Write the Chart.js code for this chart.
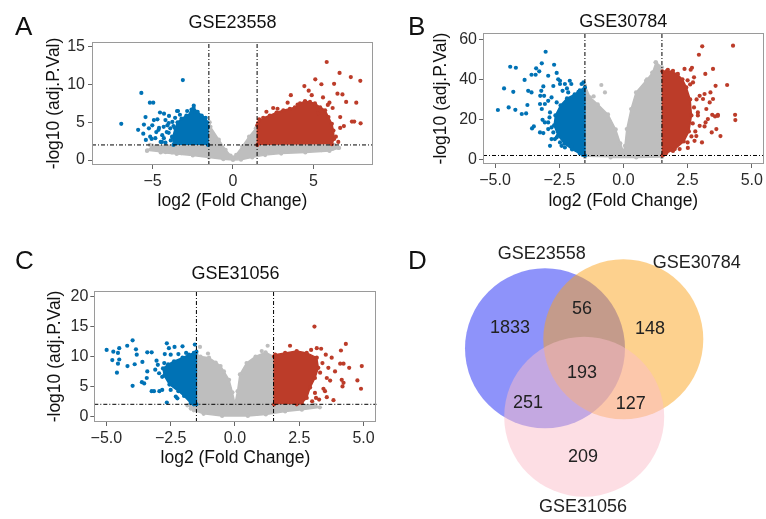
<!DOCTYPE html>
<html><head><meta charset="utf-8">
<script src="https://cdn.jsdelivr.net/npm/chart.js@4.4.1/dist/chart.umd.min.js"></script>
<style>
html,body{margin:0;padding:0;background:#fff;}
#fig{position:relative;width:766px;height:519px;background:#fff;overflow:hidden;font-family:"Liberation Sans",Arial,Helvetica,sans-serif;}
canvas{position:absolute;}
.tag{position:absolute;font-size:26px;line-height:26px;color:#111;}
</style></head><body>
<div id="fig">
<canvas id="cA" width="383" height="215" style="left:0;top:0"></canvas>
<canvas id="cB" width="383" height="215" style="left:383px;top:0"></canvas>
<canvas id="cC" width="383" height="242" style="left:0;top:230px"></canvas>
<canvas id="cD" width="346" height="289" style="left:420px;top:230px"></canvas>
<div class="tag" style="left:15px;top:13px">A</div>
<div class="tag" style="left:408px;top:13px">B</div>
<div class="tag" style="left:15px;top:247px">C</div>
<div class="tag" style="left:408px;top:247px">D</div>
</div>
<script>
// ---------------- DATA ----------------
const FC_CUT = 1.5;   // |log2 FC| threshold
const P_CUT = 2;      // -log10(adj.P) threshold

// Panel A: GSE23558
const A_title = 'GSE23558';
const A_xTicks = [-5, 0, 5];
const A_xTickLabels = ['\u22125', '0', '5'];
const A_yTicks = [0, 5, 10, 15];
const A_yTickLabels = ['0', '5', '10', '15'];
const A_down = [[-6.95,4.8],[-3.12,10.6],[-5.7,8.9],[-5.17,7.6],[-4.96,7.6],[-4.54,6.3],[-5.44,5.7],[-5.9,4.0],[-5.54,4.7],[-5.58,3.5],[-5.23,4.2],[-5.06,2.8],[-4.5,2.4],[-4.92,5.3],[-5.02,4.6],[-4.77,3.7],[-4.29,6.15],[-3.98,5.85],[-4.08,4.6],[-4.4,3.3],[-3.77,5.05],[-3.42,6.5],[-3.87,2.6],[-4.12,3.7],[-4.6,4.25],[-4.7,5.4],[-5.42,2.66],[-5.15,3.1],[-4.83,2.9],[-4.63,4.0],[-4.31,4.4],[-4.2,5.3],[-4.0,4.9],[-3.79,3.1],[-4.42,2.4],[-3.48,6.5],[-2.85,6.5],[-2.58,6.7],[-2.44,7.2],[-4.3,2.9],[-4.0,3.6],[-3.9,4.2],[-4.2,2.3],[-3.7,4.5],[-3.6,5.6],[-3.3,6.0]];
const A_downArea = [[-1.55,2.0],[-1.55,4.4],[-1.6,5.0],[-1.7,5.6],[-1.95,5.9],[-2.2,6.4],[-2.45,6.9],[-2.6,6.3],[-2.9,5.9],[-3.2,5.5],[-3.45,5.0],[-3.6,4.2],[-3.75,3.0],[-3.7,2.0]];
const A_up = [[5.83,13.0],[6.63,11.55],[7.33,11.0],[7.92,10.5],[6.29,10.1],[5.12,10.7],[5.5,10.05],[4.44,9.8],[6.5,8.8],[6.81,8.7],[3.6,8.6],[4.71,9.2],[4.9,8.6],[3.4,7.6],[4.02,7.35],[4.5,7.7],[7.04,7.7],[7.67,7.6],[2.08,6.4],[2.5,6.9],[2.77,6.8],[6.0,7.6],[5.3,6.2],[6.67,5.7],[7.4,5.1],[7.54,5.1],[7.94,4.87],[6.67,4.25],[1.63,5.4],[6.4,3.1],[6.55,2.4],[6.9,4.5],[5.9,7.3],[5.6,8.3],[6.2,6.9]];
const A_upArea = [[1.52,2.0],[1.52,4.6],[1.56,4.9],[1.88,5.6],[2.29,5.9],[2.71,6.3],[3.13,6.6],[3.54,6.8],[3.85,7.0],[4.17,7.5],[4.48,7.8],[4.79,7.7],[5.1,7.5],[5.42,7.0],[5.73,6.6],[5.94,5.7],[6.15,4.8],[6.25,3.9],[6.29,2.8],[6.15,2.1]];
const A_ns = [[-5.33,1.29],[-5.17,2.0],[-4.19,1.06],[-3.8,1.0],[6.56,1.6],[-4.6,1.5],[-5.0,1.7],[5.5,1.3],[6.2,1.5],[-3.2,0.9],[4.7,1.2]];
const A_nsArea = [[-5.35,1.2],[-5.0,1.9],[-3.7,2.0],[-1.55,4.0],[-1.45,5.0],[-1.4,4.4],[-0.88,2.7],[-0.46,1.35],[-0.15,0.6],[0,0.35],[0.2,0.7],[0.58,1.8],[1.0,3.1],[1.42,4.2],[1.5,4.5],[1.55,2.0],[6.3,2.0],[6.6,1.6],[6.0,1.2],[4.5,1.0],[3.0,0.85],[2.0,0.65],[1.2,0.35],[0.5,0.05],[0,0.0],[-0.6,0.1],[-1.5,0.35],[-2.5,0.6],[-3.5,0.8],[-4.5,1.0]];

// Panel B: GSE30784
const B_title = 'GSE30784';
const B_xTicks = [-5, -2.5, 0, 2.5, 5];
const B_xTickLabels = ['\u22125.0', '\u22122.5', '0.0', '2.5', '5.0'];
const B_yTicks = [0, 20, 40, 60];
const B_yTickLabels = ['0', '20', '40', '60'];
const B_down = [[-3.03,53.8],[-4.41,46.3],[-4.19,45.8],[-3.18,48],[-3.4,45.5],[-2.7,47.3],[-3.28,44],[-3.58,42.3],[-3.42,42.3],[-2.93,41.8],[-3.85,39.7],[-2.6,43.2],[-2.47,39.3],[-4.65,35.5],[-4.29,33.8],[-3.71,34.3],[-4.89,24.7],[-4.47,26],[-4.21,24.8],[-3.96,22.7],[-3.79,23.0],[-3.74,27.2],[-3.56,15.5],[-3.49,16.5],[-2.2,35.5],[-2.03,37.7],[-2.28,37.7],[-2.41,6.8],[-2.17,7.7],[-2.02,6.8],[-3.2,34.3],[-3.12,36.5],[-3.09,31.8],[-3.24,31.8],[-3.06,27.7],[-3.25,27.7],[-3.18,25.2],[-2.93,29.3],[-2.8,31],[-3.15,19.8],[-3.06,18.5],[-3.25,13.5],[-3.12,13.2],[-2.93,15.2],[-2.8,10.2],[-2.86,6.8],[-2.67,10.2],[-2.28,6],[-2.47,37.7],[-2.37,34.3],[-2.15,33.5],[-1.63,37.7],[-1.56,38.5],[-1.75,33.8],[-2.09,39.3],[-2.73,36.7],[-2.54,40],[-3.58,33.5],[-2.86,23.5],[-2.93,18.5],[-2.73,13.5],[-2.47,8.5],[-2.6,28.5],[-2.88,21],[-2.8,16],[-2.6,11]];
const B_downArea = [[-1.5,2.0],[-1.5,36],[-1.7,34.5],[-1.9,32.5],[-2.2,30.5],[-2.45,27],[-2.65,22],[-2.7,17],[-2.55,12],[-2.3,8],[-2.0,5.0],[-1.7,3.0],[-1.58,2.3]];
const B_up = [[3.07,56.5],[4.27,56.8],[2.94,52.3],[2.67,45.8],[2.62,44.8],[3.49,45.2],[3.19,42.7],[3.59,36.8],[4.04,37.2],[3.39,33.5],[3.49,30.2],[4.35,22.3],[4.36,19.7],[3.78,11.7],[3.46,22.3],[3.68,22.3],[3.57,21.5],[3.44,13.5],[3.06,8.5],[3.16,16.5],[3.2,18.5],[2.97,31.8],[3.16,32.7],[3.1,30.2],[3.36,28.5],[3.23,25.2],[2.9,23.5],[3.29,20.2],[2.97,16.8],[2.84,11.7],[2.77,9.3],[2.51,5.8],[2.19,5.2],[1.93,4.3],[1.8,5.2],[3.62,15.2],[3.68,21.8],[2.75,41],[2.71,38.5],[2.38,45.2],[2.12,42.7],[1.93,44.3],[1.73,44.8],[2.85,30],[2.9,22],[2.8,14],[2.5,8.5],[2.6,37.5],[2.5,39.5],[2.75,26],[2.7,18],[2.65,11.5]];
const B_upArea = [[1.52,2.0],[1.52,44],[1.7,44.3],[1.9,43.8],[2.1,42.5],[2.3,40],[2.45,36],[2.6,30],[2.65,22],[2.55,14],[2.35,9],[2.0,5.2],[1.67,3.2],[1.55,2.3]];
const B_ns = [[-0.86,37.2],[-0.72,33.5],[-1.16,31.5],[1.25,48.5],[0.92,40],[1.12,43.3],[-1.36,31]];
const B_nsArea = [[-1.5,1.2],[-1.5,37],[-1.3,31],[-1.0,27.5],[-0.6,22.5],[-0.3,15],[-0.12,8],[0,4],[0.06,6.8],[0.13,15.2],[0.3,25.2],[0.49,33.5],[0.88,39.3],[1.14,43.5],[1.27,48.5],[1.5,46],[1.5,1.2],[0.5,1.0],[-0.5,1.0]];

// Panel C: GSE31056
const C_title = 'GSE31056';
const C_xTicks = [-5, -2.5, 0, 2.5, 5];
const C_xTickLabels = ['\u22125.0', '\u22122.5', '0.0', '2.5', '5.0'];
const C_yTicks = [0, 5, 10, 15, 20];
const C_yTickLabels = ['0', '5', '10', '15', '20'];
const C_down = [[-4.99,11.1],[-4.73,10.8],[-4.55,10.6],[-4.5,11.4],[-4.19,11.8],[-3.98,12.7],[-4.77,9.4],[-4.55,8.8],[-4.5,9.5],[-4.59,7.3],[-4.18,8.4],[-3.85,11.2],[-3.82,10.3],[-3.9,8.7],[-3.6,9.1],[-3.41,10.7],[-3.24,10.7],[-3.98,5.1],[-3.41,7.5],[-3.62,5.7],[-3.43,6.4],[-3.15,4.2],[-2.94,4.2],[-2.65,12.2],[-2.57,11.4],[-2.35,11.6],[-2.04,11.7],[-2.73,10.4],[-2.5,10.3],[-2.83,4.4],[-2.5,4.4],[-2.3,3.3],[-2.24,3.0],[-2.65,2.3],[-1.56,12.0],[-3.24,4.2],[-3.53,5.5],[-2.2,10.4],[-1.9,10.6],[-3.0,8.6],[-3.1,7.8],[-2.83,6.6],[-2.95,7.2],[-2.75,8.9],[-3.05,9.3]];
const C_downArea = [[-1.5,2.0],[-1.5,10.8],[-1.6,10.6],[-1.79,10.3],[-2.04,9.8],[-2.37,9.2],[-2.6,8.7],[-2.8,8.0],[-2.75,6.8],[-2.55,5.3],[-2.2,4.2],[-1.98,3.4],[-1.72,2.2],[-1.6,2.0]];
const C_up = [[3.09,15.0],[2.14,11.8],[4.31,12.1],[4.12,11.0],[3.18,11.4],[3.35,11.3],[3.76,9.8],[4.09,8.8],[4.22,8.8],[4.44,8.1],[4.93,8.4],[3.89,7.5],[4.15,6.1],[4.22,5.6],[4.76,6.0],[4.9,4.6],[4.18,5.0],[3.57,6.4],[3.7,5.97],[3.44,4.6],[3.57,3.2],[3.83,2.7],[3.11,3.9],[3.15,3.07],[2.96,11.1],[3.53,10.3],[3.4,8.9],[3.63,8.1],[3.31,7.3],[3.5,4.2],[3.27,2.8],[3.0,2.5]];
const C_upArea = [[1.52,2.0],[1.52,10.0],[1.56,10.3],[1.95,10.6],[2.4,10.9],[2.79,10.6],[3.18,9.8],[3.24,8.1],[3.11,6.4],[2.92,4.8],[2.79,3.07],[2.6,2.2],[2.4,2.0]];
const C_ns = [[-1.36,11.6],[1.27,11.8],[1.04,10.9],[-1.72,1.28],[-1.78,1.9],[1.95,1.4],[2.6,1.9],[3.1,1.9],[-1.05,10.5]];
const C_nsArea = [[-1.85,1.8],[-1.5,3.0],[-1.5,10.4],[-1.34,10.0],[-1.01,9.8],[-0.75,9.0],[-0.56,8.4],[-0.43,7.5],[-0.23,6.1],[-0.1,4.0],[0,2.1],[0.1,4.2],[0.19,7.0],[0.45,8.9],[0.8,10.0],[1.19,10.7],[1.5,10.0],[1.52,2.0],[2.6,1.95],[3.1,1.9],[3.3,1.5],[2.6,1.1],[1.95,0.8],[1.2,0.3],[0.5,0.05],[-0.5,0.05],[-1.22,0.4],[-1.6,1.0]];

// Panel D: Venn
const vennSets = ['GSE23558', 'GSE30784', 'GSE31056'];
const vennCounts = [1833, 148, 209, 56, 251, 127, 193]; // A only, B only, C only, A&B, A&C, B&C, all

// ---------------- STYLE / LAYOUT ----------------
const FONT = '"Liberation Sans", Arial, Helvetica, sans-serif';
const RED = '#BC3C29', BLUE = '#0072B5', GREY = '#BEBEBE';
const DOT = 2.1;
Chart.defaults.font.family = FONT;
Chart.defaults.animation = false;

const pts = a => a.map(p => ({x: p[0], y: p[1]}));

const frame = {
  id: 'frame',
  afterDatasetsDraw(chart) {
    const {ctx, chartArea: a} = chart;
    ctx.save();
    ctx.strokeStyle = '#9a9a9a';
    ctx.lineWidth = 1;
    ctx.strokeRect(Math.round(a.left) + 0.5, Math.round(a.top) + 0.5, Math.round(a.width) - 1, Math.round(a.height) - 1);
    ctx.restore();
  }
};

function volcano(id, d, L) {
  const area = (arr, col, order) => ({data: pts(arr), showLine: true, fill: 'shape', backgroundColor: col,
    borderColor: col, borderWidth: 1.5, pointRadius: DOT, pointBackgroundColor: col, pointBorderWidth: 0, tension: 0, order});
  const dots = (arr, col, order) => ({data: pts(arr), backgroundColor: col, pointRadius: DOT, pointBorderWidth: 0, borderWidth: 0, order});
  const vline = (xv) => ({data: [{x: xv, y: L.yMin}, {x: xv, y: L.yMax}], showLine: true, borderColor: '#000', borderWidth: 1,
    borderDash: [4, 2, 1, 2], pointRadius: 0, order: 0});
  const hline = {data: [{x: L.xMin, y: P_CUT}, {x: L.xMax, y: P_CUT}], showLine: true, borderColor: '#000', borderWidth: 1,
    borderDash: [4, 2, 1, 2], pointRadius: 0, order: 0};
  new Chart(document.getElementById(id), {
    type: 'scatter',
    data: {datasets: [
      area(d.nsArea, GREY, 6), dots(d.ns, GREY, 5),
      area(d.downArea, BLUE, 4), dots(d.down, BLUE, 3),
      area(d.upArea, RED, 4), dots(d.up, RED, 3),
      vline(-FC_CUT), vline(FC_CUT), hline
    ]},
    options: {
      responsive: false, animation: false,
      layout: {autoPadding: false, padding: {left: 0, right: L.padRight, top: 0, bottom: 0}},
      plugins: {
        legend: {display: false}, tooltip: {enabled: false},
        title: {display: true, text: d.title, fullSize: false, color: '#111', font: {size: 18, weight: 'normal'},
          padding: {top: L.titleTop, bottom: L.titleBottom}}
      },
      scales: {
        x: {type: 'linear', min: L.xMin, max: L.xMax,
          afterBuildTicks: s => { s.ticks = d.xTicks.map(v => ({value: v})); },
          afterFit: s => { s.height = L.xAxisH; },
          ticks: {callback: (v, i) => d.xTickLabels[i], autoSkip: false, maxRotation: 0, color: '#2a2a2a', font: {size: 16}, padding: 3},
          grid: {drawOnChartArea: false, drawTicks: true, tickLength: 4, color: '#666'},
          border: {display: false},
          title: {display: true, text: 'log2 (Fold Change)', color: '#111', font: {size: 17.5}, padding: {top: 0, bottom: L.xTitlePad}}
        },
        y: {type: 'linear', min: L.yMin, max: L.yMax,
          afterBuildTicks: s => { s.ticks = d.yTicks.map(v => ({value: v})); },
          afterFit: s => { s.width = L.yAxisW; },
          ticks: {callback: (v, i) => d.yTickLabels[i], autoSkip: false, color: '#2a2a2a', font: {size: 16}, padding: L.yTickPad},
          grid: {drawOnChartArea: false, drawTicks: true, tickLength: 4, color: '#666'},
          border: {display: false},
          title: {display: true, text: '-log10 (adj.P.Val)', color: '#111', font: {size: 17.5}, padding: {top: L.yTitlePad, bottom: 0}}
        }
      }
    },
    plugins: [frame]
  });
}

volcano('cA', {title: A_title, xTicks: A_xTicks, xTickLabels: A_xTickLabels, yTicks: A_yTicks, yTickLabels: A_yTickLabels,
  down: A_down, downArea: A_downArea, up: A_up, upArea: A_upArea, ns: A_ns, nsArea: A_nsArea},
  {xMin: -8.77, xMax: 8.71, yMin: -0.66, yMax: 15.65, padRight: 10, titleTop: 12, titleBottom: 8.4,
   xAxisH: 50, yAxisW: 92, xTitlePad: 3.3, yTitlePad: 43.5, yTickPad: 3});

volcano('cB', {title: B_title, xTicks: B_xTicks, xTickLabels: B_xTickLabels, yTicks: B_yTicks, yTickLabels: B_yTickLabels,
  down: B_down, downArea: B_downArea, up: B_up, upArea: B_upArea, ns: B_ns, nsArea: B_nsArea},
  {xMin: -5.47, xMax: 5.46, yMin: -2.25, yMax: 63.1, padRight: 1, titleTop: 11.5, titleBottom: 0,
   xAxisH: 51, yAxisW: 100, xTitlePad: 3, yTitlePad: 48, yTickPad: 2});

volcano('cC', {title: C_title, xTicks: C_xTicks, xTickLabels: C_xTickLabels, yTicks: C_yTicks, yTickLabels: C_yTickLabels,
  down: C_down, downArea: C_downArea, up: C_up, upArea: C_upArea, ns: C_ns, nsArea: C_nsArea},
  {xMin: -5.47, xMax: 5.51, yMin: -0.96, yMax: 20.96, padRight: 6.3, titleTop: 33.4, titleBottom: 6,
   xAxisH: 50, yAxisW: 94.3, xTitlePad: 3.5, yTitlePad: 44.5, yTickPad: 2});

// Venn layout (canvas-local coordinates)
const vennLayout = {
  w: 346, h: 289, r: 80,
  centers: [[125, 118.3], [203.3, 109.3], [164.2, 186.7]],
  colors: ['rgba(30,40,245,0.5)', 'rgba(251,163,30,0.5)', 'rgba(251,190,202,0.5)'],
  setLabelPos: [[121.7, 24], [276.7, 33], [163, 276.7]],
  countPos: [[90, 98], [230, 99], [163, 226.7], [162, 79], [108, 172.7], [210.7, 174], [162, 142.7]]
};
const vennText = {
  id: 'vennText',
  afterDatasetsDraw(chart) {
    const {ctx, scales: {x, y}} = chart;
    ctx.save();
    ctx.font = '18px ' + FONT;
    ctx.fillStyle = '#222';
    ctx.textAlign = 'center';
    ctx.textBaseline = 'middle';
    vennSets.forEach((s, i) => ctx.fillText(s, x.getPixelForValue(vennLayout.setLabelPos[i][0]), y.getPixelForValue(vennLayout.setLabelPos[i][1])));
    vennCounts.forEach((n, i) => ctx.fillText(String(n), x.getPixelForValue(vennLayout.countPos[i][0]), y.getPixelForValue(vennLayout.countPos[i][1])));
    ctx.restore();
  }
};
new Chart(document.getElementById('cD'), {
  type: 'bubble',
  data: {datasets: [{
    data: vennSets.map((s, i) => ({x: vennLayout.centers[i][0], y: vennLayout.centers[i][1], r: vennLayout.r})),
    backgroundColor: vennLayout.colors, borderWidth: 0, hoverRadius: 0
  }]},
  options: {
    responsive: false, animation: false,
    layout: {autoPadding: false, padding: 0},
    plugins: {legend: {display: false}, tooltip: {enabled: false}},
    scales: {
      x: {type: 'linear', min: 0, max: vennLayout.w, display: false},
      y: {type: 'linear', min: 0, max: vennLayout.h, reverse: true, display: false}
    },
    clip: false
  },
  plugins: [vennText]
});
</script>
</body></html>
